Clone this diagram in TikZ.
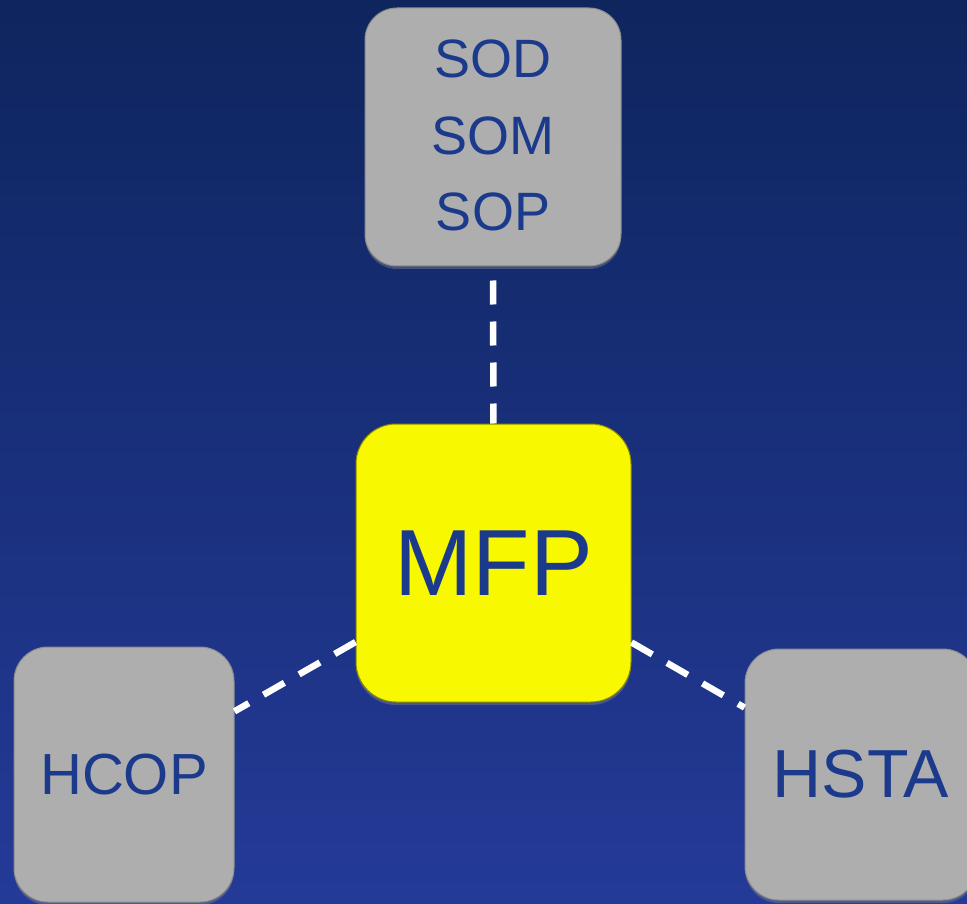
\documentclass[tikz,border=0pt]{standalone}
\usepackage{fontspec}
\setmainfont{Liberation Sans}
\usetikzlibrary{shadows}
\definecolor{bgtop}{RGB}{14,37,94}
\definecolor{bgmid}{RGB}{19,43,108}
\definecolor{bgbot}{RGB}{36,58,152}
\definecolor{boxgray}{RGB}{174,174,174}
\definecolor{boxyellow}{RGB}{248,248,0}
\definecolor{txtblue}{RGB}{27,58,140}
\tikzset{
  box/.style={rectangle, inner sep=0pt, text=txtblue, align=center,
    draw=black!45, line width=1pt,
    drop shadow={shadow xshift=0pt, shadow yshift=-3pt, opacity=0.45}},
  graybox/.style={box, fill=boxgray},
  yellowbox/.style={box, fill=boxyellow, draw=black!20!boxyellow!70!black},
  link/.style={white, line width=6.5pt, dash pattern=on 24pt off 17pt}
}
\begin{document}
\begin{tikzpicture}[x=1pt,y=1pt]
\useasboundingbox (0,0) rectangle (967,-904);
\shade[top color=bgtop, middle color=bgmid, bottom color=bgbot] (0,0) rectangle (967,-904);
\node[graybox, minimum width=256pt, minimum height=258pt, rounded corners=32pt,
  font=\fontsize{54}{76.5}\selectfont] (sod) at (493,-137) {\raisebox{3pt}{SOD}\\\raisebox{3pt}{SOM}\\\raisebox{3pt}{SOP}};
\node[yellowbox, minimum width=275pt, minimum height=278pt, rounded corners=40pt,
  font=\fontsize{94}{100}\selectfont] (mfp) at (493.5,-563) {MFP};
\node[graybox, minimum width=220pt, minimum height=255pt, rounded corners=34pt,
  font=\fontsize{58}{60}\selectfont] (hcop) at (124,-774.5) {HCOP};
\node[graybox, minimum width=232pt, minimum height=251pt, rounded corners=34pt,
  font=\fontsize{68}{70}\selectfont] (hsta) at (861,-774.5) {HSTA};
\draw[link, shorten <=14pt] (sod) -- (mfp);
\draw[link] (mfp) -- (hcop);
\draw[link] (mfp) -- (hsta);
\end{tikzpicture}
\end{document}
